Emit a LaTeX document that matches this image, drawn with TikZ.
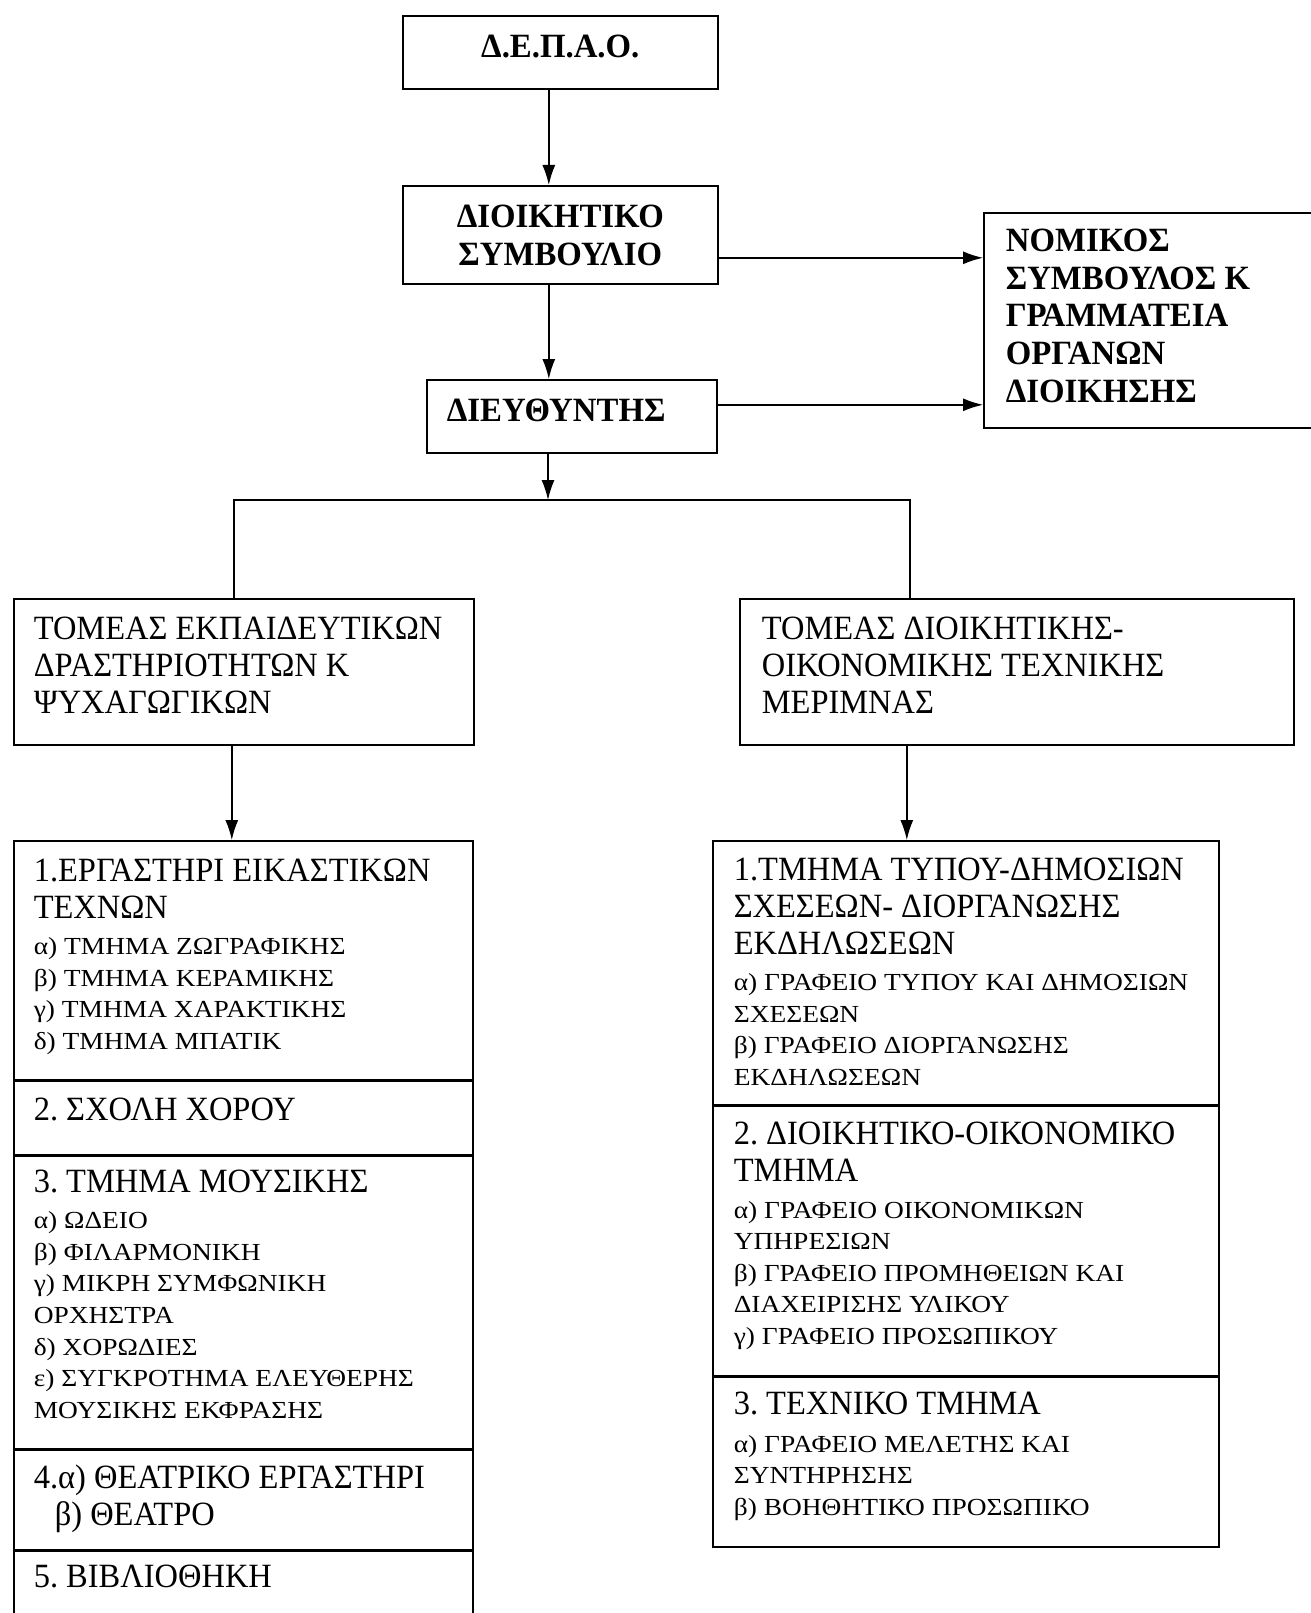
\documentclass[tikz,border=0pt]{standalone}
\usepackage{fontspec}
\setmainfont{Liberation Serif}[FakeStretch=0.955,BoldFeatures={FakeStretch=0.965}]
\newfontfamily\subfont{Liberation Serif}[FakeStretch=1.12]
\usetikzlibrary{arrows.meta, calc, positioning}
\frenchspacing

\newcommand{\fhead}{\bfseries\fontsize{34}{37.8}\selectfont}
\newcommand{\fbig}{\fontsize{34}{37}\selectfont}
\newcommand{\fsmall}{\subfont\fontsize{24.5}{31.6}\selectfont}
% height, width, top pad, text
\newcommand{\cellbox}[4]{\parbox[t][#1][t]{#2}{\raggedright\vspace*{#3}#4}}

\begin{document}
\begin{tikzpicture}[x=1pt,y=-1pt,>={Latex[length=20pt,width=13pt]},
  cell/.style={draw,line width=1.6pt,inner ysep=0pt,anchor=north west},
  wire/.style={line width=1.5pt}]
\useasboundingbox (0,0) rectangle (1310,1613);

% management
\node[cell,inner xsep=0pt]  (DEPAO) at (402,15)  {\cellbox{73pt}{315pt}{19pt}{\centering\fhead Δ.Ε.Π.Α.Ο.\par}};
\node[cell,inner xsep=0pt]  (DS)    at (402,185) {\cellbox{98pt}{315pt}{19pt}{\centering\fhead ΔΙΟΙΚΗΤΙΚΟ\\ΣΥΜΒΟΥΛΙΟ\par}};
\node[cell,inner xsep=20pt] (DIR)   at (426,379) {\cellbox{73pt}{250pt}{19pt}{\fhead ΔΙΕΥΘΥΝΤΗΣ\par}};
\node[cell,inner xsep=22pt] (NOM)   at (983,212) {\cellbox{215pt}{303pt}{16pt}{\fhead ΝΟΜΙΚΟΣ\\ΣΥΜΒΟΥΛΟΣ Κ\\ΓΡΑΜΜΑΤΕΙΑ\\ΟΡΓΑΝΩΝ\\ΔΙΟΙΚΗΣΗΣ\par}};

% sectors
\node[cell,inner xsep=20pt] (TE) at (13,598)  {\cellbox{146pt}{420pt}{18pt}{\fbig ΤΟΜΕΑΣ ΕΚΠΑΙΔΕΥΤΙΚΩΝ\\ΔΡΑΣΤΗΡΙΟΤΗΤΩΝ Κ\\ΨΥΧΑΓΩΓΙΚΩΝ\par}};
\node[cell,inner xsep=22pt] (TD) at (739,598) {\cellbox{146pt}{510pt}{18pt}{\fbig ΤΟΜΕΑΣ ΔΙΟΙΚΗΤΙΚΗΣ-\\ΟΙΚΟΝΟΜΙΚΗΣ ΤΕΧΝΙΚΗΣ\\ΜΕΡΙΜΝΑΣ\par}};

% left column
\node[cell,inner xsep=20pt] (E1) at (13,840) {\cellbox{239pt}{419pt}{18pt}{{\fbig 1.ΕΡΓΑΣΤΗΡΙ ΕΙΚΑΣΤΙΚΩΝ\\ΤΕΧΝΩΝ\par}\vspace{4.5pt}
  {\fsmall α) ΤΜΗΜΑ ΖΩΓΡΑΦΙΚΗΣ\\β) ΤΜΗΜΑ ΚΕΡΑΜΙΚΗΣ\\γ) ΤΜΗΜΑ ΧΑΡΑΚΤΙΚΗΣ\\δ) ΤΜΗΜΑ ΜΠΑΤΙΚ\par}}};
\node[cell,inner xsep=20pt,below=0pt of E1] (E2) {\cellbox{73pt}{419pt}{17pt}{\fbig 2. ΣΧΟΛΗ ΧΟΡΟΥ\par}};
\node[cell,inner xsep=20pt,below=0pt of E2] (E3) {\cellbox{293pt}{419pt}{14pt}{{\fbig 3. ΤΜΗΜΑ ΜΟΥΣΙΚΗΣ\par}\vspace{4.5pt}
  {\fsmall α) ΩΔΕΙΟ\\β) ΦΙΛΑΡΜΟΝΙΚΗ\\γ) ΜΙΚΡΗ ΣΥΜΦΩΝΙΚΗ\\ΟΡΧΗΣΤΡΑ\\δ) ΧΟΡΩΔΙΕΣ\\ε) ΣΥΓΚΡΟΤΗΜΑ ΕΛΕΥΘΕΡΗΣ\\ΜΟΥΣΙΚΗΣ ΕΚΦΡΑΣΗΣ\par}}};
\node[cell,inner xsep=20pt,below=0pt of E3] (E4) {\cellbox{99pt}{419pt}{14pt}{\fbig 4.α) ΘΕΑΤΡΙΚΟ ΕΡΓΑΣΤΗΡΙ\\\hspace*{21pt}β) ΘΕΑΤΡΟ\par}};
\node[cell,inner xsep=20pt,below=0pt of E4] (E5) {\cellbox{96pt}{419pt}{14pt}{\fbig 5. ΒΙΒΛΙΟΘΗΚΗ\par}};

% right column
\node[cell,inner xsep=21pt] (A1) at (712,840) {\cellbox{264pt}{464pt}{17pt}{{\fbig 1.ΤΜΗΜΑ ΤΥΠΟΥ-ΔΗΜΟΣΙΩΝ\\ΣΧΕΣΕΩΝ- ΔΙΟΡΓΑΝΩΣΗΣ\\ΕΚΔΗΛΩΣΕΩΝ\par}\vspace{4.5pt}
  {\fsmall α) ΓΡΑΦΕΙΟ ΤΥΠΟΥ ΚΑΙ ΔΗΜΟΣΙΩΝ\\ΣΧΕΣΕΩΝ\\β) ΓΡΑΦΕΙΟ ΔΙΟΡΓΑΝΩΣΗΣ\\ΕΚΔΗΛΩΣΕΩΝ\par}}};
\node[cell,inner xsep=21pt,below=0pt of A1] (A2) {\cellbox{269pt}{464pt}{16pt}{{\fbig 2. ΔΙΟΙΚΗΤΙΚΟ-ΟΙΚΟΝΟΜΙΚΟ\\ΤΜΗΜΑ\par}\vspace{4.5pt}
  {\fsmall α) ΓΡΑΦΕΙΟ ΟΙΚΟΝΟΜΙΚΩΝ\\ΥΠΗΡΕΣΙΩΝ\\β) ΓΡΑΦΕΙΟ ΠΡΟΜΗΘΕΙΩΝ ΚΑΙ\\ΔΙΑΧΕΙΡΙΣΗΣ ΥΛΙΚΟΥ\\γ) ΓΡΑΦΕΙΟ ΠΡΟΣΩΠΙΚΟΥ\par}}};
\node[cell,inner xsep=21pt,below=0pt of A2] (A3) {\cellbox{170pt}{464pt}{15pt}{{\fbig 3. ΤΕΧΝΙΚΟ ΤΜΗΜΑ\par}\vspace{6pt}
  {\fsmall α) ΓΡΑΦΕΙΟ ΜΕΛΕΤΗΣ ΚΑΙ\\ΣΥΝΤΗΡΗΣΗΣ\\β) ΒΟΗΘΗΤΙΚΟ ΠΡΟΣΩΠΙΚΟ\par}}};

% connectors
\coordinate (fork)  at (548,500);
\coordinate (forkL) at (234,500);
\coordinate (forkR) at (910,500);
\draw[wire,->] ([xshift=-11.5pt]DEPAO.south) -- ([xshift=-11.5pt]DS.north);
\draw[wire,->] ([xshift=-11.5pt]DS.south) -- ([xshift=-11.5pt]DS.south |- DIR.north);
\draw[wire,->] ([yshift=-23pt]DS.east) -- ([yshift=-23pt]DS.east -| NOM.west);
\draw[wire,->] ([yshift=11.5pt]DIR.east) -- ([yshift=11.5pt]DIR.east -| NOM.west);
\draw[wire,->] (DIR.south -| fork) -- (fork);
\draw[wire] (forkL |- TE.north) -- (forkL) -- (forkR) -- (forkR |- TD.north);
\draw[wire,->] ([xshift=-12pt]TE.south) -- ([xshift=-12pt]TE.south |- E1.north);
\draw[wire,->] ([xshift=-110pt]TD.south) -- ([xshift=-110pt]TD.south |- A1.north);
\end{tikzpicture}
\end{document}
